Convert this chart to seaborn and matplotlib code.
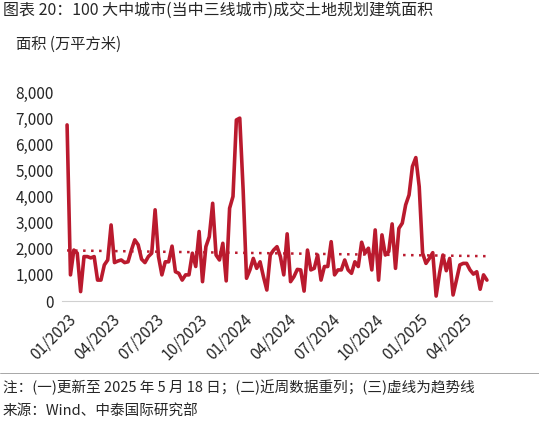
import numpy as np
import matplotlib
matplotlib.use("Agg")
import matplotlib.pyplot as plt
import seaborn as sns

values = [6740,1000,1950,1830,360,1700,1700,1650,1700,800,800,1380,1570,2910,1470,1530,1570,1470,1500,1950,
          2340,2150,1600,1470,1700,1830,3490,1700,1000,1500,1500,2100,1120,1060,800,1000,1000,1830,1320,2660,
          740,2080,2460,3740,1760,1570,2210,770,3550,4000,6930,7000,4250,870,1190,1630,1250,1500,930,420,
          1760,1950,2080,1700,1000,2570,740,930,1210,1190,380,1950,1190,1250,1760,800,1320,1320,2270,1000,
          1190,1190,1570,1190,1060,1500,1320,2250,1830,2020,1190,2720,800,2530,1760,1890,2950,1250,2780,2980,
          3680,4060,5150,5490,4380,1830,1440,1630,1850,190,1060,1760,1160,1630,230,800,1380,1440,1440,1190,
          1030,1120,450,1000,800]
tick_labels = ["01/2023","04/2023","07/2023","10/2023","01/2024","04/2024","07/2024","10/2024","01/2025","04/2025"]
tick_pos = [0,13,26,39,52,65,78,91,104,117]

sns.set_style("white")
plt.rcParams['font.family'] = ['Noto Sans CJK SC', 'DejaVu Sans']
red = "#BA1A2E"

fig = plt.figure(figsize=(5.39, 4.24), dpi=100)
ax = fig.add_axes([62/539, (424-301)/424, 430/539, (301-92)/424])
x = np.arange(len(values))
sns.lineplot(x=x, y=values, ax=ax, color=red, linewidth=2.6)
k, b = np.polyfit(x, values, 1)
ax.plot(x, k*x+b, color=red, linestyle=(0, (1, 2.2)), linewidth=1.8)

ax.set_ylim(0, 8000)
ax.set_yticks(range(0, 8001, 1000))
ax.set_yticklabels([f"{v:,}" for v in range(0, 8001, 1000)], fontsize=11)
ax.set_xlim(-1.5, len(values) + 0.5)
ax.set_xticks(tick_pos)
ax.set_xticklabels(tick_labels, rotation=45, ha="right", rotation_mode="anchor", fontsize=11)
for s in ["top", "right", "left"]:
    ax.spines[s].set_visible(False)
ax.spines["bottom"].set_color("#d0d0d0")
ax.tick_params(axis="x", direction="out", length=5, color="#d0d0d0", pad=2)
ax.tick_params(axis="y", length=0, pad=6)

fig.text(0.005, 0.965, "图表 20：100 大中城市(当中三线城市)成交土地规划建筑面积", fontsize=11.5)
fig.text(0.03, 0.885, "面积 (万平方米)", fontsize=11)
fig.plot([0, 1], [0.118, 0.118], color="#cccccc", lw=0.6, transform=fig.transFigure) if False else None
fig.add_artist(plt.Line2D([0, 1], [0.12, 0.12], color="#999999", lw=0.6, transform=fig.transFigure))
fig.text(0.005, 0.075, "注：(一)更新至 2025 年 5 月 18 日；(二)近周数据重列；(三)虚线为趋势线", fontsize=10.5)
fig.text(0.005, 0.02, "来源：Wind、中泰国际研究部", fontsize=10.5)
fig.savefig("out.png", dpi=100)
